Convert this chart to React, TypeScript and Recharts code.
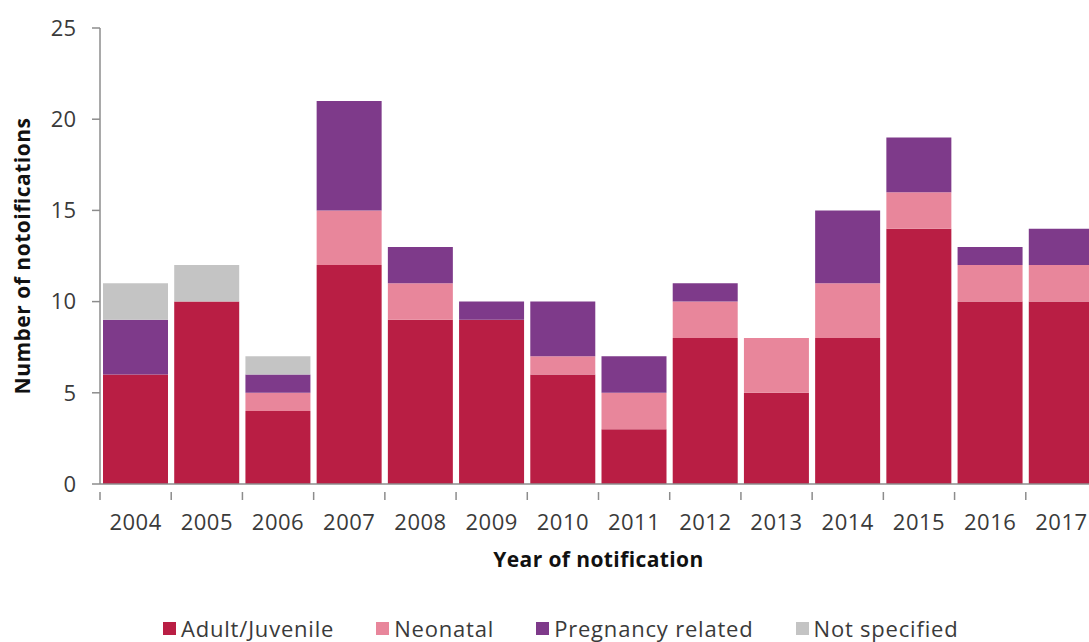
import React from "react";
import { BarChart, Bar, XAxis, YAxis, Legend } from "recharts";

const years = ["2004", "2005", "2006", "2007", "2008", "2009", "2010", "2011", "2012", "2013", "2014", "2015", "2016", "2017"];
const adultJuvenile = [6, 10, 4, 12, 9, 9, 6, 3, 8, 5, 8, 14, 10, 10];
const neonatal = [0, 0, 1, 3, 2, 0, 1, 2, 2, 3, 3, 2, 2, 2];
const pregnancyRelated = [3, 0, 1, 6, 2, 1, 3, 2, 1, 0, 4, 3, 1, 2];
const notSpecified = [2, 2, 1, 0, 0, 0, 0, 0, 0, 0, 0, 0, 0, 0];
const yTicks = [0, 5, 10, 15, 20, 25];

const SERIES = [
  { key: "adult", name: "Adult/Juvenile", color: "#b91e44" },
  { key: "neonatal", name: "Neonatal", color: "#e8869b" },
  { key: "pregnancy", name: "Pregnancy related", color: "#7e3a8a" },
  { key: "notSpecified", name: "Not specified", color: "#c4c4c4" },
];

const data = years.map((year, i) => ({
  year,
  adult: adultJuvenile[i],
  neonatal: neonatal[i],
  pregnancy: pregnancyRelated[i],
  notSpecified: notSpecified[i],
}));

const FONT = "'Open Sans', sans-serif";
const TEXT = "#3a3a3a";
const AXIS = "#8c8c8c";

const CHART_W = 1110;
const MARGIN = { top: 28, right: 13, left: 40, bottom: 0 };
const Y_AXIS_W = 60;
const PLOT_W = CHART_W - MARGIN.left - MARGIN.right - Y_AXIS_W;
const HALF_BAND = PLOT_W / years.length / 2;

function YearTick(props: any) {
  const { x, y, payload } = props;
  return (
    <g>
      <line x1={x - HALF_BAND} x2={x - HALF_BAND} y1={y} y2={y + 8} stroke={AXIS} strokeWidth={1.5} />
      <text
        x={x}
        y={y + 29}
        textAnchor="middle"
        dominantBaseline="central"
        fill={TEXT}
        fontSize={22}
        letterSpacing={0.5}
        fontFamily={FONT}
      >
        {payload.value}
      </text>
    </g>
  );
}

function YLabel(props: any) {
  const vb = props.viewBox;
  const cy = vb.y + vb.height / 2;
  return (
    <text
      x={22}
      y={cy}
      transform={`rotate(-90, 22, ${cy})`}
      textAnchor="middle"
      dominantBaseline="central"
      fill="#111"
      fontSize={21}
      fontWeight={700}
      letterSpacing={0.5}
      fontFamily={FONT}
    >
      Number of notoifications
    </text>
  );
}

function LegendContent() {
  return (
    <div style={{ height: 30, fontFamily: FONT, fontSize: 22, letterSpacing: 0.8, color: TEXT, lineHeight: "26px" }}>
      <div style={{ display: "flex", alignItems: "center", height: 30, paddingLeft: 123, transform: "translateY(1px)" }}>
        {SERIES.map((s) => (
          <div key={s.key} style={{ display: "flex", alignItems: "center", marginRight: 42 }}>
            <span style={{ display: "inline-block", width: 13, height: 13, background: s.color, marginRight: 5 }} />
            <span>{s.name}</span>
          </div>
        ))}
      </div>
    </div>
  );
}

export default function App() {
  return (
    <div style={{ position: "fixed", left: 0, top: 0, width: 1089, height: 642, overflow: "hidden", background: "#fff" }}>
      <BarChart width={CHART_W} height={642} data={data} margin={MARGIN} barCategoryGap={3}>
        <XAxis
          dataKey="year"
          height={128}
          stroke={AXIS}
          strokeWidth={1.5}
          tickLine={false}
          tick={<YearTick />}
          interval={0}
          label={{
            value: "Year of notification",
            position: "insideBottom",
            offset: 45,
            fill: "#111",
            fontSize: 21,
            fontWeight: 700,
            letterSpacing: 0.4,
            fontFamily: FONT,
          }}
        />
        <YAxis
          width={Y_AXIS_W}
          domain={[0, 25]}
          ticks={yTicks}
          interval={0}
          stroke={AXIS}
          strokeWidth={1.5}
          tickSize={8}
          tickMargin={16}
          tick={{ fill: TEXT, fontSize: 22, fontFamily: FONT }}
          label={<YLabel />}
        />
        <Legend verticalAlign="bottom" content={<LegendContent />} />
        {SERIES.map((s) => (
          <Bar key={s.key} dataKey={s.key} name={s.name} stackId="a" fill={s.color} isAnimationActive={false} />
        ))}
      </BarChart>
    </div>
  );
}
